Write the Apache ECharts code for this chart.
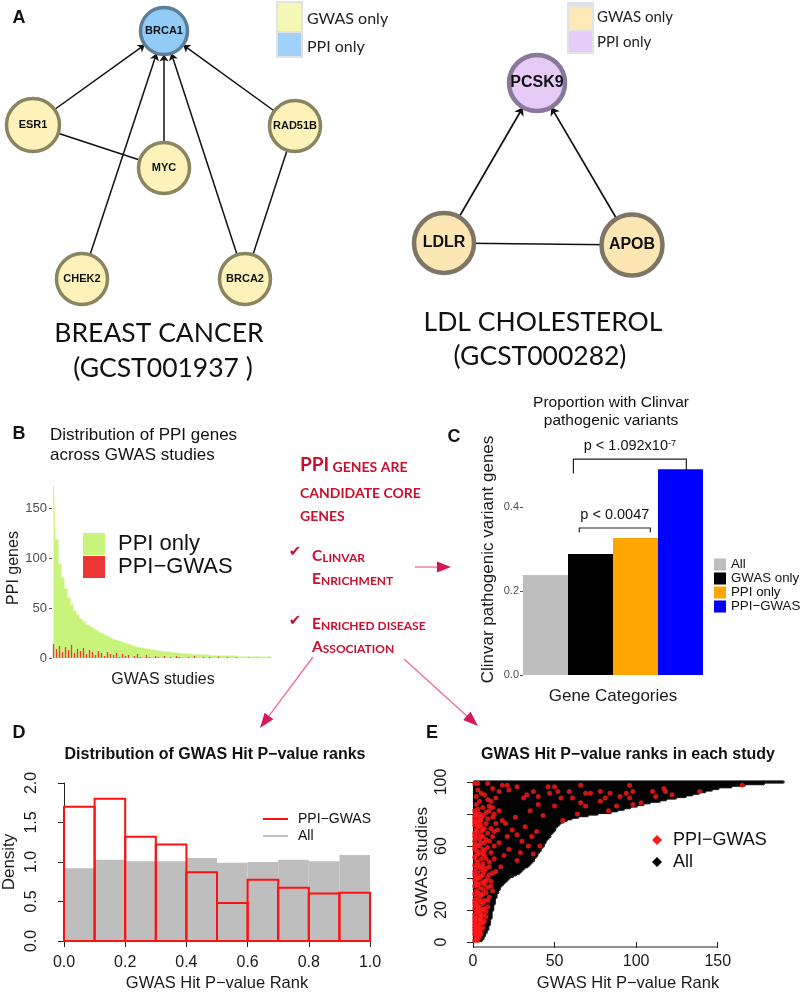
<!DOCTYPE html>
<html><head><meta charset="utf-8">
<script src="https://cdn.jsdelivr.net/npm/echarts@6/dist/echarts.min.js"></script>
<style>html,body{margin:0;padding:0;background:#fff}#c{width:800px;height:993px}</style>
</head><body><div id="c"></div>
<script>
// ---------------- DATA ----------------
// Panel A: networks (node layout, in panel units)
const breastNodes = ['BRCA1', 'ESR1', 'MYC', 'RAD51B', 'CHEK2', 'BRCA2'];
const breastLayoutX = [164, 33, 164, 295, 82, 245];
const breastLayoutY = [31, 125, 168, 126, 279, 279];
const breastNodeType = ['PPI', 'GWAS', 'GWAS', 'GWAS', 'GWAS', 'GWAS'];
const breastEdges = [['ESR1', 'BRCA1', 1], ['MYC', 'BRCA1', 1], ['CHEK2', 'BRCA1', 1], ['BRCA2', 'BRCA1', 1], ['RAD51B', 'BRCA1', 1], ['ESR1', 'MYC', 0], ['RAD51B', 'BRCA2', 0]];
const ldlNodes = ['PCSK9', 'LDLR', 'APOB'];
const ldlLayoutX = [537, 444, 632];
const ldlLayoutY = [83, 243, 245];
const ldlNodeType = ['PPI', 'GWAS', 'GWAS'];
const ldlEdges = [['LDLR', 'PCSK9', 1], ['APOB', 'PCSK9', 1], ['LDLR', 'APOB', 0]];

// Panel B: PPI genes per GWAS study (sorted)
const ppiOnlyCounts = [172,118,94,80,69,60,53,47,43,39, 36,33,31,29,27,25,24,22,21,19, 18,17,16,15,14,13,12,11,10,10, 9,9,8,8,7,7,6,6,6,5, 5,5,4,4,4,4,3,3,3,3, 3,3,2,2,2,2,2,2,2,2, 2,1,1,1,1,1,1,1,1,1, 1,1,1,1];
const ppiGwasCounts = [14,9,12,6,11,8,13,5,9,7, 10,4,8,6,3,7,5,2,6,4, 3,5,1,4,2,3,0,2,4,1, 0,3,1,0,2,1,0,2,0,1, 0,2,1,0,0,1,0,2,0,0, 1,0,1,0,0,2,0,0,1,0, 0,1,0,0,0,1,0,0,1,0, 0,0,1,0];
const bTicks = [0, 50, 100, 150];

// Panel C: proportion with Clinvar pathogenic variants
const geneCategories = ['All', 'GWAS only', 'PPI only', 'PPI\u2212GWAS'];
const clinvarProportion = [0.238, 0.288, 0.326, 0.49];
const cTicks = [0, 0.2, 0.4];
const cComparisons = [
  { from: 0.75, to: 2.33, level: 0.35, legDown: 0.01, text: '{p|p < 0.0047}' },
  { from: 0.62, to: 3.13, level: 0.514, legDown: 0.034, text: '{p|p < 1.092x10}{sup|-7}' }
];

// Panel D: histogram densities of GWAS hit p-value rank
const rankBinEdges = [0, 0.1, 0.2, 0.3, 0.4, 0.5, 0.6, 0.7, 0.8, 0.9, 1.0];
const densityAll = [0.92, 1.03, 1.01, 1.01, 1.05, 0.99, 1.00, 1.03, 1.01, 1.09];
const densityPpiGwas = [1.70, 1.80, 1.32, 1.22, 0.87, 0.48, 0.775, 0.675, 0.60, 0.61];

// Panel E: number of GWAS hits per study (studies 1..100), PPI-GWAS hits as [rank, study]
const hitsPerStudy = [5,6,6,7,7,8,8,9,9,9, 10,10,10,10,11,11,11,11,11,12, 12,12,12,13,13,13,13,14,14,14, 15,15,16,16,17,18,19,20,21,22, 24,26,28,29,30,31,33,34,35,36, 37,37,38,39,39,40,41,41,42,43, 43,44,44,45,46,47,47,48,49,50, 50,51,52,53,55,57,60,64,70,76, 84,88,92,96,100,104,108,114,118,124, 130,134,138,142,146,150,158,166,178,190];
const ppiGwasHits = [
[1,1],[2,2],[3,1],[2,4],[4,3],[1,5],[3,6],[5,5],[2,7],[4,8],
[1,9],[3,10],[6,9],[2,11],[5,12],[1,13],[3,14],[7,13],[2,15],[4,16],
[6,17],[1,17],[3,18],[8,19],[2,19],[5,20],[1,21],[4,22],[9,22],[2,23],
[6,24],[3,25],[1,26],[7,26],[4,27],[2,28],[10,28],[5,29],[1,30],[3,31],
[8,31],[2,32],[6,33],[4,34],[1,35],[11,35],[3,36],[5,37],[2,38],[7,38],
[1,39],[4,40],[9,40],[2,41],[6,42],[3,43],[12,43],[1,44],[5,45],[8,46],
[2,46],[4,47],[1,48],[6,49],[3,50],[10,50],[2,51],[5,52],[1,53],[7,54],
[3,55],[4,56],[2,57],[1,58],[6,58],[9,59],[3,60],[2,61],[5,62],[1,63],
[4,64],[8,64],[2,65],[6,66],[3,67],[1,68],[5,69],[2,70],[7,71],[4,72],
[1,73],[3,74],[2,75],[5,76],[1,77],[3,78],[2,79],[6,79],[4,80],
[4,60],[5,66],[7,62],[6,70],[8,74],[5,73],[9,68],[7,57],[10,63],[11,71],
[12,66],[8,52],[6,47],[11,56],[13,60],[14,74],[9,77],[12,78],[15,70],[7,44],
[10,47],[13,52],[8,38],[6,30],[9,34],[5,25],[7,21],[8,16],[6,12],[4,11],
[5,8],[3,4],[2,3],[4,6],[7,36],[10,42],[11,38],[12,32],[9,26],[6,55],
[13,80],[5,41],[3,48],[2,54],[1,60],[1,66],[2,69],[1,75],[3,72],[4,76],
[5,78],[2,80],[1,79],[3,40],[1,42],[2,36],[4,30],[1,24],[3,20],[1,15],
[2,13],[1,11],[3,8],[1,7],[2,5],[5,14],[4,18],[3,22],[6,20],[5,16],
[4,14],[2,9],
[1,99],[3,95],[5,93],[2,91],[7,92],[4,88],[10,85],[6,84],[2,86],[9,89],[12,96],[14,90],[1,82],[8,81],[3,83],
[27,51],[32,72],[27,67],[30,63],[22,58],[19,54],[17,47],[14,44],[16,62],[13,69],[18,76],[16,82],[11,88],[12,84],
[10,82],[26,78],[20,74],[21,66],[24,70],[36,66],[39,69],[41,60],[34,60],[37,55],[29,56],
[88,85],[98,86],[103,87],[83,82],[78,88],[66,87],[69,85],[64,80],[55,76],[50,85],[43,79],[40,86],[35,82],[31,90],
[3,99],[9,99],[18,98],[21,98],[27,97],[46,97],[50,97],[66,98],[96,98],[117,96],[139,94],[165,98],
[16,94],[22,95],[33,92],[37,94],[40,91],[47,93],[52,94],[54,90],[59,94],[61,90],[69,93],[72,93],[78,94],
[84,93],[81,90],[90,91],[94,93],[96,90],[98,94],[110,94],[112,91],[118,94],[122,92]
];
const eXTicks = [0, 50, 100, 150];
const eYTicks = [0, 20, 40, 60, 80, 100];
const eYLabels = [0, 20, 60, 100];

// ---------------- STYLE ----------------
const FR = '"Liberation Sans", Arial, sans-serif';
const FC = 'Lato, "Open Sans", sans-serif';
const RED_TXT = '#c8102e';
const cColors = ['#bebebe', '#000000', '#ffa500', '#0000ff'];
const GREEN = '#c8f47c';

const chart = echarts.init(document.getElementById('c'), null, { renderer: 'canvas' });

const breastStyle = {
  GWAS: { color: '#fdf2b9', borderColor: '#8a8460', borderWidth: 3.5 },
  PPI: { color: '#92cbf5', borderColor: '#5b7d98', borderWidth: 3.5 }
};
const ldlStyle = {
  GWAS: { color: '#fce6b3', borderColor: '#7d7665', borderWidth: 4.5 },
  PPI: { color: '#e5cbf5', borderColor: '#887899', borderWidth: 4.5 }
};

function graphSeries(nodes, xs, ys, types, edges, styles, sizes, fontSize, arrowSize, lw) {
  return {
    type: 'graph', coordinateSystem: 'cartesian2d', xAxisIndex: 0, yAxisIndex: 0,
    silent: true, z: 5,
    data: nodes.map((n, i) => ({
      name: n, value: [xs[i], ys[i]], symbolSize: sizes[i], itemStyle: styles[types[i]]
    })),
    links: edges.map(e => ({ source: e[0], target: e[1], symbol: e[2] ? ['none', 'arrow'] : ['none', 'none'], symbolSize: [0, arrowSize] })),
    lineStyle: { color: '#111', width: lw, opacity: 1, curveness: 0 },
    label: { show: true, position: 'inside', fontFamily: FR, fontWeight: 'bold', fontSize: fontSize, color: '#111' }
  };
}

const series = [];
series.push(graphSeries(breastNodes, breastLayoutX, breastLayoutY, breastNodeType, breastEdges, breastStyle, [47, 53, 51, 51, 51, 51], 11, 7, 1.5));
series.push(graphSeries(ldlNodes, ldlLayoutX, ldlLayoutY, ldlNodeType, ldlEdges, ldlStyle, [56, 60, 61], 16, 8, 1.7));

// Panel B (per-study counts drawn as a stepped area: one column per study)
series.push({ type: 'line', name: 'PPI only', xAxisIndex: 1, yAxisIndex: 1, data: ppiOnlyCounts, step: 'middle',
  symbol: 'none', lineStyle: { color: GREEN, width: 1 }, areaStyle: { color: GREEN, opacity: 1 }, itemStyle: { color: GREEN }, silent: true });
series.push({ type: 'bar', name: 'PPI\u2212GWAS', xAxisIndex: 5, yAxisIndex: 1, data: ppiGwasCounts,
  barWidth: 1.3, itemStyle: { color: '#f03a3a' }, silent: true, z: 3 });

// Panel C
geneCategories.forEach((c, i) => {
  series.push({ type: 'bar', name: c, stack: 'clin', xAxisIndex: 2, yAxisIndex: 2, barCategoryGap: 0,
    data: clinvarProportion.map((v, j) => j === i ? v : '-'), itemStyle: { color: cColors[i] }, silent: true });
});

// Panel D
function histSeries(name, dens, style) {
  return { type: 'custom', name: name, xAxisIndex: 3, yAxisIndex: 3, clip: false, silent: true,
    data: dens.map((d, i) => [rankBinEdges[i], rankBinEdges[i + 1], d]),
    encode: { x: [0, 1], y: 2 },
    renderItem: (params, api) => {
      const a = api.coord([api.value(0), api.value(2)]);
      const b = api.coord([api.value(1), 0]);
      return { type: 'rect', shape: { x: a[0], y: a[1], width: b[0] - a[0], height: b[1] - a[1] }, style: style };
    } };
}
series.push(histSeries('All', densityAll, { fill: '#bebebe' }));
series.push(histSeries('PPI\u2212GWAS', densityPpiGwas, { fill: 'none', stroke: '#ff1010', lineWidth: 2 }));

// Panel E
const allHits = [];
hitsPerStudy.forEach((n, s) => { for (let r = 1; r <= n; r++) allHits.push([r, s + 1]); });
series.push({ type: 'scatter', name: 'All', xAxisIndex: 4, yAxisIndex: 4, data: allHits, symbol: 'circle',
  symbolSize: 3.6, itemStyle: { color: '#000' }, clip: false, silent: true });
series.push({ type: 'scatter', name: 'PPI\u2212GWAS', xAxisIndex: 4, yAxisIndex: 4, data: ppiGwasHits, symbol: 'circle',
  symbolSize: 5, itemStyle: { color: '#ff1a1a' }, clip: false, silent: true, z: 4 });

const tickR = { show: true, length: 6, lineStyle: { color: '#222', width: 1 } };
const lblR = { fontFamily: FR, fontSize: 16, color: '#1a1a1a' };

const option = {
  animation: false,
  textStyle: { fontFamily: FR },
  grid: [
    { left: 0, top: 0, width: 800, height: 400 },
    { left: 52, top: 478, width: 222, height: 180 },
    { left: 523, top: 444, width: 180, height: 231 },
    { left: 62, top: 783, width: 308, height: 160 },
    { left: 473, top: 782, width: 310, height: 161 }
  ],
  xAxis: [
    { gridIndex: 0, type: 'value', min: 0, max: 800, show: false },
    { gridIndex: 1, type: 'category', data: ppiOnlyCounts.map((_, i) => 'S' + (i + 1)),
      axisLine: { show: false }, axisTick: { show: false }, axisLabel: { show: false },
      name: 'GWAS studies', nameLocation: 'middle', nameGap: 14, nameTextStyle: { fontFamily: FR, fontSize: 16, color: '#1a1a1a' } },
    { gridIndex: 2, type: 'category', data: geneCategories,
      axisLine: { show: false }, axisTick: { show: false }, axisLabel: { show: false },
      name: 'Gene Categories', nameLocation: 'middle', nameGap: 13, nameTextStyle: { fontFamily: FR, fontSize: 17, color: '#1a1a1a' } },
    { gridIndex: 3, type: 'value', min: 0, max: 1, interval: 0.2, offset: 7,
      axisLine: { show: true, lineStyle: { color: '#222', width: 1 } }, axisTick: tickR,
      axisLabel: Object.assign({ margin: 7, formatter: v => v.toFixed(1) }, lblR), splitLine: { show: false },
      name: 'GWAS Hit P\u2212value Rank', nameLocation: 'middle', nameGap: 27, nameTextStyle: { fontFamily: FR, fontSize: 16.5, color: '#1a1a1a' } },
    { gridIndex: 4, type: 'value', min: 0, max: 190, offset: 5,
      axisLine: { show: false }, axisTick: Object.assign({ customValues: eXTicks }, tickR),
      axisLabel: Object.assign({ margin: 7, customValues: eXTicks }, lblR), splitLine: { show: false },
      name: 'GWAS Hit P\u2212value Rank', nameLocation: 'middle', nameGap: 28, nameTextStyle: { fontFamily: FR, fontSize: 16.5, color: '#1a1a1a' } },
    { gridIndex: 1, type: 'category', data: ppiGwasCounts.map((_, i) => 'S' + (i + 1)), show: false }
  ],
  yAxis: [
    { gridIndex: 0, type: 'value', min: 0, max: 400, inverse: true, show: false },
    { gridIndex: 1, type: 'value', min: 0, max: 180,
      axisLine: { show: false }, axisTick: { show: true, length: 3, customValues: bTicks, lineStyle: { color: '#555' } },
      axisLabel: { customValues: bTicks, margin: 5, fontSize: 13, color: '#4d4d4d', fontFamily: FR }, splitLine: { show: false },
      name: 'PPI genes', nameLocation: 'middle', nameGap: 28, nameTextStyle: { fontFamily: FR, fontSize: 16, color: '#1a1a1a' } },
    { gridIndex: 2, type: 'value', min: 0, max: 0.55,
      axisLine: { show: false }, axisTick: { show: true, length: 3, customValues: cTicks, lineStyle: { color: '#555' } },
      axisLabel: { customValues: cTicks, margin: 4, fontSize: 11, color: '#4d4d4d', fontFamily: FR, formatter: v => v.toFixed(1) }, splitLine: { show: false },
      name: 'Clinvar pathogenic variant genes', nameLocation: 'middle', nameGap: 26, nameTextStyle: { fontFamily: FR, fontSize: 17, color: '#1a1a1a' } },
    { gridIndex: 3, type: 'value', min: 0, max: 2, interval: 0.5, offset: 12,
      axisLine: { show: true, lineStyle: { color: '#222', width: 1 } }, axisTick: tickR,
      axisLabel: Object.assign({ rotate: 90, margin: 12, formatter: v => v.toFixed(1) }, lblR), splitLine: { show: false },
      name: 'Density', nameLocation: 'middle', nameGap: 34, nameTextStyle: { fontFamily: FR, fontSize: 17, color: '#1a1a1a' } },
    { gridIndex: 4, type: 'value', min: 0, max: 100, offset: 11,
      axisLine: { show: true, lineStyle: { color: '#222', width: 1 } }, axisTick: Object.assign({ customValues: eYTicks }, tickR),
      axisLabel: Object.assign({ rotate: 90, margin: 12, customValues: eYLabels }, lblR), splitLine: { show: false },
      name: 'GWAS studies', nameLocation: 'middle', nameGap: 31, nameTextStyle: { fontFamily: FR, fontSize: 17, color: '#1a1a1a' } }
  ],
  legend: [
    { selectedMode: false, orient: 'vertical', left: 78, top: 528, itemWidth: 22, itemHeight: 22, itemGap: 1, icon: 'rect',
      itemStyle: { borderWidth: 0 },
      textStyle: { fontFamily: FR, fontSize: 22, lineHeight: 22, color: '#111', padding: [0, 0, 0, 8] },
      data: [{ name: 'PPI only', itemStyle: { color: GREEN } }, { name: 'PPI\u2212GWAS', itemStyle: { color: '#ee3535' } }] },
    { selectedMode: false, orient: 'vertical', left: 709, top: 553, itemWidth: 12, itemHeight: 12, itemGap: 1, icon: 'rect',
      itemStyle: { borderWidth: 0 },
      textStyle: { fontFamily: FR, fontSize: 13.3, lineHeight: 12, color: '#111' },
      data: geneCategories.map((c, i) => ({ name: c, itemStyle: { color: cColors[i] } })) },
    { selectedMode: false, orient: 'vertical', left: 258, top: 807, itemWidth: 25, itemHeight: 2, itemGap: 3, icon: 'rect',
      itemStyle: { borderWidth: 0 },
      textStyle: { fontFamily: FR, fontSize: 14, lineHeight: 14, color: '#111', padding: [0, 0, 0, 5] },
      data: [{ name: 'PPI\u2212GWAS', itemStyle: { color: '#ff1010' } }, { name: 'All', itemStyle: { color: '#bebebe' } }] },
    { selectedMode: false, orient: 'vertical', left: 647, top: 826, itemWidth: 10, itemHeight: 10, itemGap: 4, icon: 'diamond',
      itemStyle: { borderWidth: 0 },
      textStyle: { fontFamily: FR, fontSize: 18, lineHeight: 18, color: '#111', padding: [0, 0, 0, 6] },
      data: [{ name: 'PPI\u2212GWAS', itemStyle: { color: '#ff1a1a' } }, { name: 'All', itemStyle: { color: '#000' } }] }
  ],
  series: series
};
chart.setOption(option);

// ---------------- ANNOTATIONS ----------------
function T(x, y, text, o) {
  return { type: 'text', x: x, y: y, silent: true, z: 10,
    style: Object.assign({ text: text, fontFamily: FR, fontSize: 16, fill: '#111', align: 'left', verticalAlign: 'middle' }, o || {}) };
}
function smallCaps(str, big, small) {
  let out = '', cur = null, buf = '';
  for (const ch of str) {
    const key = (ch !== ch.toLowerCase()) ? big : small;
    if (key !== cur) { if (buf) out += '{' + cur + '|' + buf + '}'; buf = ''; cur = key; }
    buf += ch.toUpperCase();
  }
  if (buf) out += '{' + cur + '|' + buf + '}';
  return out;
}
function arrow(x1, y1, x2, y2, hl, hw) {
  const dx = x2 - x1, dy = y2 - y1, L = Math.hypot(dx, dy), ux = dx / L, uy = dy / L;
  const bx = x2 - ux * hl, by = y2 - uy * hl, px = -uy * hw / 2, py = ux * hw / 2;
  return [
    { type: 'line', silent: true, shape: { x1: x1, y1: y1, x2: bx, y2: by }, style: { stroke: '#ec6d90', lineWidth: 1.3 } },
    { type: 'polygon', silent: true, shape: { points: [[x2, y2], [bx + px, by + py], [bx - px, by - py]] }, style: { fill: '#d6185a' } }
  ];
}

const g = [];
// panel letters
[['A', 19, 18], ['B', 19, 434], ['C', 454, 437], ['D', 19, 733], ['E', 432, 733]].forEach(l => {
  g.push(T(l[1], l[2], l[0], { fontFamily: FR, fontWeight: 'bold', fontSize: 18, align: 'center', fill: '#111' }));
});
// panel A legends
g.push({ type: 'rect', silent: true, shape: { x: 276, y: 1, width: 27, height: 57 }, style: { fill: '#e2e2e2' } });
g.push({ type: 'rect', silent: true, shape: { x: 278, y: 3, width: 23, height: 28 }, style: { fill: '#f5f8b4' } });
g.push({ type: 'rect', silent: true, shape: { x: 278, y: 33, width: 23, height: 23 }, style: { fill: '#9fd0f7' } });
g.push(T(307, 19, 'GWAS only', { fontFamily: FC, fontSize: 16, fill: '#222' }));
g.push(T(307, 47, 'PPI only', { fontFamily: FC, fontSize: 16, fill: '#222' }));
g.push({ type: 'rect', silent: true, shape: { x: 567, y: 2, width: 27, height: 52 }, style: { fill: '#e2e2e2' } });
g.push({ type: 'rect', silent: true, shape: { x: 569, y: 7, width: 23, height: 23 }, style: { fill: '#fde9b6' } });
g.push({ type: 'rect', silent: true, shape: { x: 569, y: 31, width: 23, height: 21 }, style: { fill: '#e6ccf8' } });
g.push(T(597, 17, 'GWAS only', { fontFamily: FC, fontSize: 15, fill: '#222' }));
g.push(T(597, 42, 'PPI only', { fontFamily: FC, fontSize: 15, fill: '#222' }));
// panel A titles
g.push(T(159, 333, 'BREAST CANCER', { fontFamily: FC, fontSize: 26.5, align: 'center', fill: '#111' }));
g.push(T(163, 368, '(GCST001937 )', { fontFamily: FC, fontSize: 26.5, align: 'center', fill: '#111' }));
g.push(T(543, 322, 'LDL CHOLESTEROL', { fontFamily: FC, fontSize: 26.5, align: 'center', fill: '#111' }));
g.push(T(540, 356, '(GCST000282)', { fontFamily: FC, fontSize: 26.5, align: 'center', fill: '#111' }));
// panel B title
g.push(T(50, 435, 'Distribution of PPI genes', { fontSize: 17 }));
g.push(T(50, 455, 'across GWAS studies', { fontSize: 17 }));
// central red text
const richBold = {
  B: { fontFamily: FC, fontWeight: 'bold', fontSize: 19, fill: RED_TXT, verticalAlign: 'bottom' },
  s: { fontFamily: FC, fontWeight: 'bold', fontSize: 14, fill: RED_TXT, verticalAlign: 'bottom' }
};
const richReg = {
  B: { fontFamily: FC, fontWeight: 'bold', fontSize: 15.5, fill: RED_TXT, verticalAlign: 'bottom' },
  s: { fontFamily: FC, fontWeight: 'bold', fontSize: 12, fill: RED_TXT, verticalAlign: 'bottom' }
};
[['PPI genes are', 465], ['candidate core', 493], ['genes', 516]].forEach(r => {
  g.push(T(300, r[1], smallCaps(r[0], 'B', 's'), { rich: richBold }));
});
[['Clinvar', 556], ['Enrichment', 579], ['Enriched disease', 624], ['Association', 647]].forEach(r => {
  g.push(T(312, r[1], smallCaps(r[0], 'B', 's'), { rich: richReg }));
});
g.push(T(295, 552, '\u2714', { fontFamily: '"DejaVu Sans", sans-serif', fontSize: 15, fill: RED_TXT, align: 'center' }));
g.push(T(295, 621, '\u2714', { fontFamily: '"DejaVu Sans", sans-serif', fontSize: 15, fill: RED_TXT, align: 'center' }));
arrow(415, 567, 451, 567, 14, 11).forEach(e => g.push(e));
arrow(313, 657, 260, 728, 15, 11).forEach(e => g.push(e));
arrow(404, 659, 478, 726, 15, 11).forEach(e => g.push(e));
// panel C title
g.push(T(611, 403, 'Proportion with Clinvar', { fontSize: 15.5, align: 'center' }));
g.push(T(611, 421, 'pathogenic variants', { fontSize: 15.5, align: 'center' }));
// panel C brackets (data-space positions through the axis scales)
const cp = (f, v) => {
  const p0 = chart.convertToPixel({ xAxisIndex: 2, yAxisIndex: 2 }, [0, v]);
  const p1 = chart.convertToPixel({ xAxisIndex: 2, yAxisIndex: 2 }, [1, v]);
  return [p0[0] + f * (p1[0] - p0[0]), p0[1]];
};
cComparisons.forEach(b => {
  const a = cp(b.from, b.level), c = cp(b.to, b.level);
  const aL = cp(b.from, b.level - b.legDown), cL = cp(b.to, b.level - b.legDown);
  g.push({ type: 'polyline', silent: true, shape: { points: [aL, a, c, cL] }, style: { stroke: '#222', lineWidth: 1.2, fill: null } });
  g.push(T((a[0] + c[0]) / 2, a[1] - 13, b.text, {
    align: 'center',
    rich: { p: { fontFamily: FR, fontSize: 14.5, fill: '#111', verticalAlign: 'bottom' },
            sup: { fontFamily: FR, fontSize: 9, fill: '#111', verticalAlign: 'top' } }
  }));
});
// panel D/E titles
g.push(T(215, 755, 'Distribution of GWAS Hit P\u2212value ranks', { fontWeight: 'bold', fontSize: 16, align: 'center' }));
g.push(T(628, 755, 'GWAS Hit P\u2212value ranks in each study', { fontWeight: 'bold', fontSize: 16, align: 'center' }));
// panel E x axis line spans the labelled range only (R style)
const e0 = chart.convertToPixel({ xAxisIndex: 4, yAxisIndex: 4 }, [eXTicks[0], 0]);
const e1 = chart.convertToPixel({ xAxisIndex: 4, yAxisIndex: 4 }, [eXTicks[eXTicks.length - 1], 0]);
g.push({ type: 'line', silent: true, shape: { x1: e0[0], y1: e0[1] + 5, x2: e1[0], y2: e1[1] + 5 }, style: { stroke: '#222', lineWidth: 1 } });

chart.setOption({ graphic: { elements: g } });
</script>
</body></html>
